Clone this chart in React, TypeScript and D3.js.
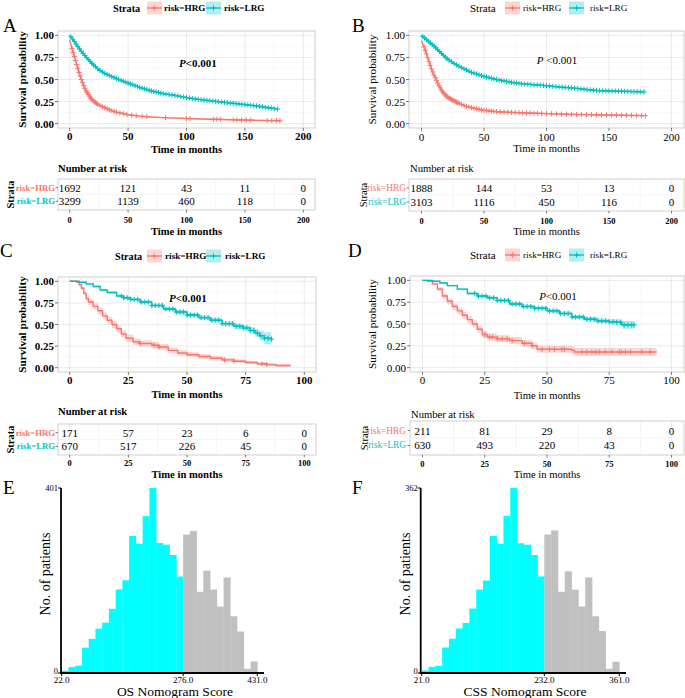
import * as d3 from 'd3'

type Pt = [number, number, number] // time, survival, CI half-width

const SERIF = '"Liberation Serif", "Times New Roman", serif'
const RED = '#F8766D'
const CYAN = '#00BFC4'

// ---- A: OS, training cohort
const aHrg: Pt[] = [[0,0.95,0.01],[2,0.85,0.012],[4,0.76,0.012],[6,0.67,0.012],[8,0.58,0.012],[10,0.5,0.012],[12,0.43,0.012],[14,0.37,0.012],[16,0.33,0.011],[18,0.29,0.011],[20,0.26,0.01],[25,0.21,0.01],[30,0.18,0.01],[35,0.15,0.009],[40,0.13,0.009],[50,0.1,0.008],[60,0.085,0.008],[70,0.075,0.008],[80,0.068,0.008],[100,0.058,0.008],[120,0.05,0.008],[140,0.043,0.008],[160,0.037,0.008],[180,0.032,0.008]]
const aLrg: Pt[] = [[0,1,0.005],[3,0.95,0.006],[6,0.89,0.007],[10,0.82,0.008],[15,0.74,0.008],[20,0.67,0.009],[25,0.61,0.009],[30,0.57,0.009],[40,0.51,0.01],[50,0.46,0.01],[60,0.41,0.01],[70,0.37,0.01],[80,0.34,0.01],[90,0.32,0.01],[100,0.295,0.01],[110,0.275,0.01],[120,0.26,0.011],[130,0.245,0.011],[140,0.23,0.012],[150,0.215,0.012],[160,0.2,0.013],[170,0.18,0.014],[178,0.165,0.015]]
const aHrgCensor = [2,3,4,5,6,7,8,9,10,11,12,13,14,15,16,17,18,19,20,21,22,23,24,26,28,30,32,34,36,38,40,43,46,49,53,57,62,66,82,100,103,123,126,129,140,143,147,151,155,169,173,177,180]
const aLrgCensor = [1,2.5,4,5.5,7,8.5,10,11.5,13,14.5,16,17.5,19,20.5,22,24,26,28,30,32,34,36,38,40,42,44,46,48,50,52,54,56,58,60,62,64,66,68,70,72,74,76,78,80,82.5,85,87.5,90,92.5,95,97.5,100,102.5,105,107.5,110,112.5,115,117.5,120,122.5,125,127.5,130,132.5,135,137.5,140,142.5,145,147.5,150,152.5,155,157.5,160,162.5,165,167.5,170,172.5,175,178]
const aRiskHrg = [1692, 121, 43, 11, 0]
const aRiskLrg = [3299, 1139, 460, 118, 0]

// ---- B: CSS, training cohort
const bHrg: Pt[] = [[0,0.94,0.01],[2,0.87,0.012],[4,0.79,0.012],[6,0.7,0.012],[8,0.62,0.012],[10,0.55,0.012],[12,0.49,0.012],[14,0.43,0.012],[16,0.38,0.011],[18,0.34,0.011],[20,0.31,0.011],[22,0.29,0.01],[25,0.265,0.01],[30,0.23,0.01],[35,0.2,0.01],[40,0.18,0.01],[50,0.15,0.009],[60,0.135,0.009],[75,0.125,0.009],[100,0.113,0.009],[120,0.105,0.009],[140,0.1,0.009],[160,0.095,0.009],[178,0.09,0.009]]
const bLrg: Pt[] = [[0,1,0.005],[5,0.94,0.006],[10,0.88,0.007],[15,0.81,0.008],[20,0.74,0.008],[25,0.69,0.009],[30,0.65,0.009],[40,0.58,0.01],[50,0.535,0.01],[60,0.5,0.01],[75,0.46,0.01],[90,0.44,0.01],[100,0.43,0.011],[110,0.415,0.011],[120,0.405,0.012],[130,0.39,0.012],[140,0.375,0.013],[150,0.37,0.013],[165,0.365,0.014],[178,0.36,0.015]]
const bHrgCensor = [2,3,4,5,6,7,8,9,10,11,12,13,14,15,16,17,18,19,20,21,22,23,24,25,26,27,28,29,30,32,34,36,38,40,42,44,46,48,50,52,54,56,58,60,63,66,69,72,75,78,81,84,87,90,93,96,100,104,108,112,116,120,124,128,132,136,140,144,148,152,156,160,164,168,172,176,179]
const bLrgCensor = [1,2.5,4,5.5,7,8.5,10,11.5,13,14.5,16,17.5,19,20.5,22,24,26,28,30,32,34,36,38,40,42,44,46,48,50,52,54,56,58,60,62,64,66,68,70,72,74,76,78,80,82.5,85,87.5,90,92.5,95,97.5,100,102.5,105,107.5,110,112.5,115,117.5,120,122.5,125,127.5,130,132.5,135,137.5,140,142.5,145,147.5,150,152.5,155,157.5,160,162.5,165,167.5,170,172.5,175,178]
const bRiskHrg = [1888, 144, 53, 13, 0]
const bRiskLrg = [3103, 1116, 450, 116, 0]

// ---- C: OS, validation cohort
const cHrg: Pt[] = [[0,1,0],[3,0.99,0.008],[4,0.96,0.015],[5,0.92,0.02],[6,0.86,0.027],[7,0.8,0.032],[8,0.76,0.035],[10,0.71,0.037],[12,0.66,0.04],[14,0.6,0.04],[16,0.55,0.042],[18,0.5,0.042],[20,0.45,0.042],[22,0.39,0.04],[24,0.34,0.04],[27,0.3,0.038],[30,0.28,0.037],[35,0.26,0.036],[38,0.24,0.035],[42,0.2,0.033],[46,0.17,0.031],[50,0.15,0.03],[55,0.13,0.028],[60,0.11,0.026],[65,0.09,0.024],[70,0.075,0.022],[75,0.06,0.02],[80,0.045,0.018],[84,0.035,0.017],[88,0.025,0.016],[94,0.02,0.016]]
const cLrg: Pt[] = [[0,1,0],[4,0.99,0.005],[7,0.97,0.01],[10,0.94,0.012],[13,0.9,0.014],[16,0.87,0.015],[20,0.83,0.016],[23,0.81,0.017],[26,0.79,0.018],[30,0.76,0.019],[35,0.72,0.02],[40,0.68,0.021],[45,0.645,0.022],[50,0.61,0.023],[55,0.58,0.024],[60,0.55,0.025],[65,0.51,0.026],[70,0.48,0.028],[74,0.46,0.03],[77,0.43,0.038],[79,0.4,0.045],[81,0.37,0.055],[83,0.34,0.07],[86,0.33,0.075]]
const cHrgCensor = [30, 36, 38, 66, 70, 82, 84]
const cLrgCensor = [22,23,24.5,26,27.5,29,30.5,32,33.5,35,36.5,38,39.5,41,42.5,44,45.5,47,48.5,50,51.5,53,54.5,56,57.5,59,60.5,62,63.5,65,66.5,68,69.5,71,72.5,74,75.5,77,78.5,80,81.5,83,84.5,86]
const cRiskHrg = [171, 57, 23, 6, 0]
const cRiskLrg = [670, 517, 226, 45, 0]

// ---- D: CSS, validation cohort
const dHrg: Pt[] = [[0,1,0],[2,0.99,0.008],[4,0.96,0.015],[6,0.9,0.022],[8,0.82,0.03],[10,0.76,0.033],[12,0.7,0.036],[14,0.65,0.038],[16,0.6,0.04],[18,0.55,0.04],[20,0.5,0.041],[22,0.44,0.041],[24,0.38,0.04],[26,0.35,0.04],[30,0.33,0.04],[35,0.31,0.04],[40,0.28,0.04],[44,0.25,0.04],[46,0.21,0.04],[60,0.2,0.045],[61,0.18,0.048],[94,0.18,0.05]]
const dLrg: Pt[] = [[0,1,0],[4,0.99,0.005],[7,0.97,0.009],[10,0.94,0.011],[14,0.9,0.013],[18,0.85,0.015],[22,0.82,0.016],[26,0.8,0.017],[30,0.77,0.018],[35,0.73,0.019],[40,0.7,0.02],[45,0.68,0.021],[50,0.65,0.022],[55,0.62,0.023],[60,0.58,0.024],[65,0.555,0.025],[70,0.535,0.027],[75,0.525,0.03],[78,0.52,0.035],[80,0.49,0.045],[85,0.49,0.05]]
const dHrgCensor = [25,27,28,30,32,34,36,41,44,48,51,53,56,57,64,66,68,69.6,71,73.4,76,79,80,81.5,83.5,88,91.5]
const dLrgCensor = [21,22.5,24,25.5,27,28.5,30,31.5,33,34.5,36,37.5,39,40.5,42,43.5,45,46.5,48,49.5,51,52.5,54,55.5,57,58.5,60,61.5,63,64.5,66,67.5,69,70.5,72,73.5,75,76.5,78,79.5,81,82.5,84,85]
const dRiskHrg = [211, 81, 29, 8, 0]
const dRiskLrg = [630, 493, 220, 43, 0]

// ---- E / F: nomogram score histograms (29 bins)
const osCounts = [5,13,16,55,74,96,109,139,181,201,297,280,340,401,282,278,256,209,300,308,176,222,181,144,207,123,90,9,25]
const cssCounts = [5,12,14,50,67,87,98,126,163,181,268,253,307,362,254,251,231,189,271,279,159,199,163,130,187,111,82,8,22]

type KmCfg = {
  bold: boolean
  letter: string
  letterX: number
  letterY: number
  legendY: number
  legendX: number[]
  plot: { l: number; r: number; t: number; b: number }
  xMax: number
  xTickY: number
  xTitleY: number
  yTitleX: number
  pText: string
  pX: number
  pY: number
  table: { t: number; b: number }
  numX: number
  numY: number
  strataX: number
  rowLabelX: number
  tableTickY: number
  tableTitleY: number
  step: boolean
}

const cfgA: KmCfg = { bold: true, letter: 'A', letterX: 3, letterY: 25, legendY: 8, legendX: [113, 147, 164, 206, 224], plot: { l: 58, r: 315, t: 31, b: 128 }, xMax: 200, xTickY: 136, xTitleY: 149, yTitleX: 22, pText: '<0.001', pX: 198, pY: 63, table: { t: 179, b: 210 }, numX: 58, numY: 168, strataX: 10, rowLabelX: 55, tableTickY: 220, tableTitleY: 231, step: false }
const cfgB: KmCfg = { bold: false, letter: 'B', letterX: 352, letterY: 25, legendY: 8, legendX: [470, 505, 523, 569, 590], plot: { l: 409, r: 684, t: 31, b: 128 }, xMax: 200, xTickY: 137, xTitleY: 148, yTitleX: 372, pText: ' <0.001', pX: 557, pY: 60, table: { t: 179, b: 211 }, numX: 410, numY: 168, strataX: 363, rowLabelX: 406, tableTickY: 221, tableTitleY: 231, step: false }
const cfgC: KmCfg = { bold: true, letter: 'C', letterX: 0, letterY: 250, legendY: 256, legendX: [115, 147, 165, 206, 225], plot: { l: 58, r: 316, t: 277, b: 372 }, xMax: 100, xTickY: 380, xTitleY: 394, yTitleX: 22, pText: '<0.001', pX: 188, pY: 298, table: { t: 424, b: 455 }, numX: 58, numY: 411, strataX: 10, rowLabelX: 55, tableTickY: 463, tableTitleY: 474, step: true }
const cfgD: KmCfg = { bold: false, letter: 'D', letterX: 348, letterY: 250, legendY: 255, legendX: [470, 505, 523, 569, 590], plot: { l: 410, r: 684, t: 276, b: 372 }, xMax: 100, xTickY: 380, xTitleY: 395, yTitleX: 372, pText: '<0.001', pX: 558, pY: 296, table: { t: 421, b: 455 }, numX: 411, numY: 414, strataX: 364, rowLabelX: 406, tableTickY: 463.5, tableTitleY: 474, step: true }

function survAt(curve: Pt[], t: number, step: boolean) {
  let i = 0
  while (i < curve.length - 1 && curve[i + 1][0] <= t) i++
  if (step || i === curve.length - 1) return curve[i][1]
  const [t0, s0] = curve[i]
  const [t1, s1] = curve[i + 1]
  return s0 + ((s1 - s0) * (t - t0)) / (t1 - t0)
}

const plus = (cx: number, cy: number, r = 2.6) => `M${cx - r},${cy}h${2 * r}M${cx},${cy - r}v${2 * r}`

function LegendKey({ x, y, color }: { x: number; y: number; color: string }) {
  return (
    <g>
      <rect x={x} y={y - 6.5} width={15} height={13} fill={color} fillOpacity={0.3} />
      <line x1={x} x2={x + 15} y1={y} y2={y} stroke={color} strokeWidth={1.3} />
      <path d={plus(x + 7.5, y)} stroke={color} strokeWidth={1} />
    </g>
  )
}

type KmProps = {
  cfg: KmCfg
  hrg: Pt[]
  lrg: Pt[]
  hrgCensor: number[]
  lrgCensor: number[]
  hrgRisk: number[]
  lrgRisk: number[]
}

function KmPanel({ cfg, hrg, lrg, hrgCensor, lrgCensor, hrgRisk, lrgRisk }: KmProps) {
  const { plot, table } = cfg
  const fw = cfg.bold ? 700 : 400
  const x = d3.scaleLinear().domain([-cfg.xMax * 0.05, cfg.xMax * 1.05]).range([plot.l, plot.r])
  const y = d3.scaleLinear().domain([-0.05, 1.05]).range([plot.b, plot.t])
  const xTicks = d3.range(0, cfg.xMax + 1, cfg.xMax / 4)
  const xMinor = xTicks.slice(0, -1).map((t) => t + cfg.xMax / 8)
  const yTicks = [0, 0.25, 0.5, 0.75, 1]
  const yMinor = [0.125, 0.375, 0.625, 0.875]
  const curve = cfg.step ? d3.curveStepAfter : d3.curveLinear
  const line = d3.line<Pt>().x((d) => x(d[0])).y((d) => y(d[1])).curve(curve)
  const area = d3
    .area<Pt>()
    .x((d) => x(d[0]))
    .y0((d) => y(Math.max(0, d[1] - d[2])))
    .y1((d) => y(Math.min(1, d[1] + d[2])))
    .curve(curve)
  const xMid = (plot.l + plot.r) / 2
  const rowY = [table.t + (table.b - table.t) * 0.28, table.t + (table.b - table.t) * 0.72]
  const groups = [
    { curve: hrg, censor: hrgCensor, color: RED, risk: hrgRisk, label: 'risk=HRG' },
    { curve: lrg, censor: lrgCensor, color: CYAN, risk: lrgRisk, label: 'risk=LRG' },
  ]
  const [lStrata, lHrgKey, lHrgText, lLrgKey, lLrgText] = cfg.legendX

  return (
    <g fontFamily={SERIF}>
      <text x={cfg.letterX} y={cfg.letterY} fontSize={19} dominantBaseline="central">{cfg.letter}</text>

      {/* legend */}
      <g fontWeight={fw} dominantBaseline="central">
        <text x={lStrata} y={cfg.legendY} fontSize={cfg.bold ? 10.2 : 11}>Strata</text>
        <LegendKey x={lHrgKey} y={cfg.legendY} color={RED} />
        <text x={lHrgText} y={cfg.legendY} fontSize={9.2}>risk=HRG</text>
        <LegendKey x={lLrgKey} y={cfg.legendY} color={CYAN} />
        <text x={lLrgText} y={cfg.legendY} fontSize={9.2}>risk=LRG</text>
      </g>

      {/* survival panel */}
      <rect x={plot.l} y={plot.t} width={plot.r - plot.l} height={plot.b - plot.t} fill="white" />
      {xMinor.map((t) => <line key={`xm${t}`} x1={x(t)} x2={x(t)} y1={plot.t} y2={plot.b} stroke="#F2F2F2" strokeWidth={0.5} />)}
      {yMinor.map((t) => <line key={`ym${t}`} x1={plot.l} x2={plot.r} y1={y(t)} y2={y(t)} stroke="#F2F2F2" strokeWidth={0.5} />)}
      {xTicks.map((t) => <line key={`xg${t}`} x1={x(t)} x2={x(t)} y1={plot.t} y2={plot.b} stroke="#E3E3E3" strokeWidth={0.7} />)}
      {yTicks.map((t) => <line key={`yg${t}`} x1={plot.l} x2={plot.r} y1={y(t)} y2={y(t)} stroke="#E3E3E3" strokeWidth={0.7} />)}
      {groups.map((g) => <path key={`ci${g.label}`} d={area(g.curve) ?? ''} fill={g.color} fillOpacity={0.3} />)}
      {groups.map((g) => (
        <g key={`ln${g.label}`} stroke={g.color} fill="none">
          <path d={line(g.curve) ?? ''} strokeWidth={1.4} />
          <path d={g.censor.map((t) => plus(x(t), y(survAt(g.curve, t, cfg.step)))).join('')} strokeWidth={1} />
        </g>
      ))}
      <rect x={plot.l} y={plot.t} width={plot.r - plot.l} height={plot.b - plot.t} fill="none" stroke="#C4C4C4" strokeWidth={0.8} />
      <text x={cfg.pX} y={cfg.pY} fontSize={11} fontWeight={fw} textAnchor="middle" dominantBaseline="central">
        <tspan fontStyle="italic">P</tspan>{cfg.pText}
      </text>

      <g fontWeight={fw} fontSize={11}>
        {yTicks.map((t) => (
          <g key={`yt${t}`}>
            <line x1={plot.l - 3} x2={plot.l} y1={y(t)} y2={y(t)} stroke="#444" strokeWidth={0.7} />
            <text x={plot.l - 4} y={y(t)} textAnchor="end" dominantBaseline="central">{d3.format('.2f')(t)}</text>
          </g>
        ))}
        {xTicks.map((t) => (
          <g key={`xt${t}`}>
            <line x1={x(t)} x2={x(t)} y1={plot.b} y2={plot.b + 3} stroke="#444" strokeWidth={0.7} />
            <text x={x(t)} y={cfg.xTickY} textAnchor="middle" dominantBaseline="central">{t}</text>
          </g>
        ))}
        <text x={xMid} y={cfg.xTitleY} textAnchor="middle" dominantBaseline="central" fontSize={10.6}>Time in months</text>
        <text transform={`translate(${cfg.yTitleX},${(plot.t + plot.b) / 2}) rotate(-90)`} textAnchor="middle" dominantBaseline="central" fontSize={11.2}>Survival probability</text>
      </g>

      {/* risk table */}
      <text x={cfg.numX} y={cfg.numY} fontSize={10.6} fontWeight={fw} dominantBaseline="central">Number at risk</text>
      <rect x={plot.l} y={table.t} width={plot.r - plot.l} height={table.b - table.t} fill="white" />
      {xMinor.map((t) => <line key={`txm${t}`} x1={x(t)} x2={x(t)} y1={table.t} y2={table.b} stroke="#ECECEC" strokeWidth={0.6} />)}
      {xTicks.map((t) => <line key={`txg${t}`} x1={x(t)} x2={x(t)} y1={table.t} y2={table.b} stroke="#E6E6E6" strokeWidth={0.7} />)}
      <line x1={plot.l} x2={plot.r} y1={(rowY[0] + rowY[1]) / 2} y2={(rowY[0] + rowY[1]) / 2} stroke="#EEEEEE" strokeWidth={0.6} />
      <rect x={plot.l} y={table.t} width={plot.r - plot.l} height={table.b - table.t} fill="none" stroke="#C4C4C4" strokeWidth={0.8} />
      {groups.map((g, gi) => (
        <g key={`row${g.label}`} dominantBaseline="central">
          {g.risk.map((n, i) => (
            <text key={i} x={x(xTicks[i])} y={rowY[gi]} fontSize={11} textAnchor="middle">{n}</text>
          ))}
          <line x1={plot.l - 2.5} x2={plot.l} y1={rowY[gi]} y2={rowY[gi]} stroke="#444" strokeWidth={0.7} />
          <text x={cfg.rowLabelX} y={rowY[gi]} fontSize={cfg.bold ? 8.7 : 9.3} fontWeight={fw} fill={g.color} textAnchor="end">{g.label}</text>
        </g>
      ))}
      <text transform={`translate(${cfg.strataX},${(table.t + table.b) / 2}) rotate(-90)`} textAnchor="middle" dominantBaseline="central" fontSize={10.5} fontWeight={fw}>Strata</text>
      <g fontWeight={700} fontSize={8.5}>
        {xTicks.map((t) => (
          <g key={`tt${t}`}>
            <line x1={x(t)} x2={x(t)} y1={table.b} y2={table.b + 2.5} stroke="#444" strokeWidth={0.7} />
            <text x={x(t)} y={cfg.tableTickY} textAnchor="middle" dominantBaseline="central">{t}</text>
          </g>
        ))}
        <text x={xMid} y={cfg.tableTitleY} textAnchor="middle" dominantBaseline="central" fontSize={10.6} fontWeight={fw}>Time in months</text>
      </g>
    </g>
  )
}

type HistCfg = {
  letter: string
  letterX: number
  axisX: number
  axisRight: number
  top: number
  bottom: number
  barL: number
  barR: number
  domain: [number, number]
  cutoff: number
  yMax: number
  label: string
  labelX: number
  yTitleX: number
}

const cfgE: HistCfg = { letter: 'E', letterX: 3, axisX: 61, axisRight: 264, top: 488, bottom: 673, barL: 61.7, barR: 257.3, domain: [22, 431], cutoff: 276, yMax: 401, label: 'OS Nomogram Score', labelX: 175, yTitleX: 45 }
const cfgF: HistCfg = { letter: 'F', letterX: 352, axisX: 420.7, axisRight: 626, top: 488, bottom: 673, barL: 421.7, barR: 619.3, domain: [21, 361], cutoff: 232, yMax: 362, label: 'CSS Nomogram Score', labelX: 525, yTitleX: 405 }

function Histogram({ cfg, counts }: { cfg: HistCfg; counts: number[] }) {
  const x = d3.scaleLinear().domain(cfg.domain).range([cfg.barL, cfg.barR])
  const y = d3.scaleLinear().domain([0, cfg.yMax]).range([cfg.bottom, cfg.top])
  const binW = (cfg.domain[1] - cfg.domain[0]) / counts.length
  const ticks = [cfg.domain[0], cfg.cutoff, cfg.domain[1]]
  return (
    <g fontFamily={SERIF}>
      <text x={cfg.letterX} y={487} fontSize={19} dominantBaseline="central">{cfg.letter}</text>
      {counts.map((c, i) => {
        const x0 = cfg.domain[0] + i * binW
        return (
          <rect
            key={i}
            x={x(x0)}
            y={y(c)}
            width={x(x0 + binW) - x(x0) + 0.3}
            height={cfg.bottom - y(c)}
            fill={x0 + binW / 2 < cfg.cutoff ? '#00FFFF' : '#C0C0C0'}
          />
        )
      })}
      <line x1={cfg.axisX} x2={cfg.axisX} y1={cfg.top} y2={cfg.bottom + 1} stroke="black" strokeWidth={1.8} />
      <line x1={cfg.axisX - 1} x2={cfg.axisRight} y1={cfg.bottom} y2={cfg.bottom} stroke="black" strokeWidth={1.8} />
      {[0, cfg.yMax].map((v) => (
        <g key={v}>
          <line x1={cfg.axisX - 3} x2={cfg.axisX} y1={y(v)} y2={y(v)} stroke="black" strokeWidth={1} />
          <text x={cfg.axisX - 3} y={v === 0 ? y(v) - 2 : y(v)} fontSize={8.5} textAnchor="end" dominantBaseline="central">{v}</text>
        </g>
      ))}
      {ticks.map((v) => (
        <g key={v}>
          <line x1={x(v)} x2={x(v)} y1={cfg.bottom} y2={cfg.bottom + 3} stroke="black" strokeWidth={1} />
          <text x={x(v)} y={680} fontSize={9} textAnchor="middle" dominantBaseline="central">{d3.format('.1f')(v)}</text>
        </g>
      ))}
      <text x={cfg.labelX} y={691.5} fontSize={13.5} textAnchor="middle" dominantBaseline="central">{cfg.label}</text>
      <text transform={`translate(${cfg.yTitleX},574) rotate(-90)`} fontSize={14} textAnchor="middle" dominantBaseline="central">No. of patients</text>
    </g>
  )
}

export default function App() {
  return (
    <div style={{ position: 'absolute', left: 0, top: 0 }}>
      <svg width={685} height={698} viewBox="0 0 685 698" style={{ display: 'block', background: 'white' }}>
        <KmPanel cfg={cfgA} hrg={aHrg} lrg={aLrg} hrgCensor={aHrgCensor} lrgCensor={aLrgCensor} hrgRisk={aRiskHrg} lrgRisk={aRiskLrg} />
        <KmPanel cfg={cfgB} hrg={bHrg} lrg={bLrg} hrgCensor={bHrgCensor} lrgCensor={bLrgCensor} hrgRisk={bRiskHrg} lrgRisk={bRiskLrg} />
        <KmPanel cfg={cfgC} hrg={cHrg} lrg={cLrg} hrgCensor={cHrgCensor} lrgCensor={cLrgCensor} hrgRisk={cRiskHrg} lrgRisk={cRiskLrg} />
        <KmPanel cfg={cfgD} hrg={dHrg} lrg={dLrg} hrgCensor={dHrgCensor} lrgCensor={dLrgCensor} hrgRisk={dRiskHrg} lrgRisk={dRiskLrg} />
        <Histogram cfg={cfgE} counts={osCounts} />
        <Histogram cfg={cfgF} counts={cssCounts} />
      </svg>
    </div>
  )
}
